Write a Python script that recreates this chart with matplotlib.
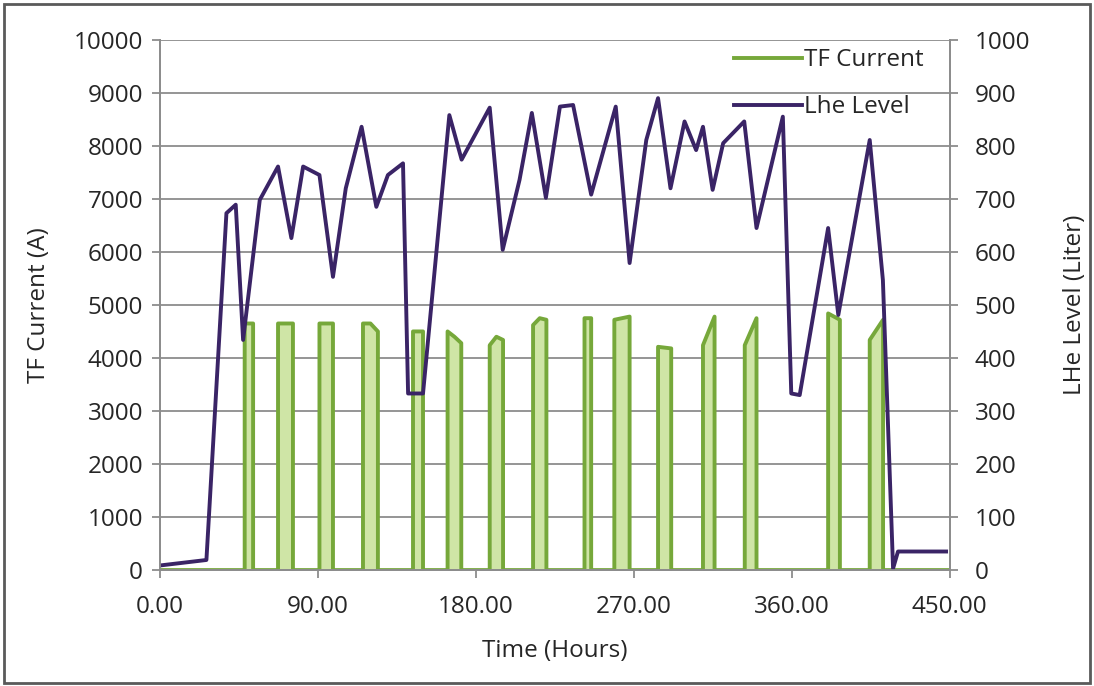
import matplotlib
matplotlib.use('Agg')
import matplotlib.pyplot as plt
from matplotlib.ticker import FormatStrFormatter

# LHe level (Liter) vs time (hours)
lhe_time = [1, 26.6, 38, 43.3, 47.5, 57, 67.4, 75, 81.7, 91, 98.7, 106, 115, 123.4,
            130, 138.6, 141.5, 150, 165, 172, 188, 195.4, 205, 212, 220, 228,
            235.5, 245.8, 259.8, 267.7, 277.2, 283.9, 291, 299, 305.6, 309.5, 315,
            321, 333, 340, 355, 359.8, 364.6, 380.8, 386.6, 404.5, 412, 417.8,
            420.6, 448]
lhe_level = [9, 19, 673, 689, 434, 698, 761, 626, 761, 745, 553, 720, 836, 685,
             745, 767, 333, 333, 858, 774, 872, 604, 736, 862, 702, 874,
             877, 708, 874, 579, 811, 890, 720, 846, 792, 836, 717,
             805, 846, 645, 855, 333, 330, 645, 481, 811, 547, 3,
             35, 35]

# TF current pulses: start time, end time, top values across the pulse
pulse_start = [48.4, 67.4, 91.0, 115.8, 144.3, 164.0, 188.0, 212.7, 242.0,
               259.0, 283.9, 309.5, 333.3, 380.8, 404.5]
pulse_end = [53.2, 75.9, 98.7, 124.3, 150.0, 171.8, 195.6, 220.3, 245.8,
             267.7, 291.4, 316.1, 340.0, 387.5, 412.1]
pulse_top = [[4650, 4650], [4650, 4650], [4650, 4650], [4650, 4650, 4500],
             [4500, 4500], [4500, 4400, 4280], [4240, 4400, 4340],
             [4620, 4750, 4720], [4750, 4750], [4720, 4780], [4210, 4180],
             [4240, 4780], [4240, 4750], [4840, 4720], [4340, 4720]]

# build the TF current trace from the pulses
tf_time = [0]
tf_current = [0]
for t0, t1, tops in zip(pulse_start, pulse_end, pulse_top):
    n = len(tops)
    tf_time.append(t0)
    tf_current.append(0)
    for i, v in enumerate(tops):
        tf_time.append(t0 + (t1 - t0) * i / (n - 1))
        tf_current.append(v)
    tf_time.append(t1)
    tf_current.append(0)
tf_time.append(450)
tf_current.append(0)

green = '#76a83a'
purple = '#3a2466'
grid_gray = '#8c8c8c'
text_col = '#262626'
font = 'Open Sans'
fs = 17.5

fig = plt.figure(figsize=(10.94, 6.86), dpi=100)
ax1 = fig.add_axes([0.146, 0.169, 0.722, 0.773])

ax1.fill_between(tf_time, tf_current, color='#cfe5a6', lw=0)
ax1.plot(tf_time, tf_current, color=green, lw=2.8, label='TF Current')
ax1.set_xlim(0, 450)
ax1.set_ylim(0, 10000)
ax1.set_xticks(range(0, 451, 90))
ax1.xaxis.set_major_formatter(FormatStrFormatter('%.2f'))
ax1.set_yticks(range(0, 10001, 1000))
ax1.grid(axis='y', color=grid_gray, lw=1.3)
ax1.set_axisbelow(True)
ax1.set_xlabel('Time (Hours)', fontsize=fs, family=font, color=text_col, labelpad=14)
ax1.set_ylabel('TF Current (A)', fontsize=fs, family=font, color=text_col, labelpad=16)

ax2 = ax1.twinx()
ax2.plot(lhe_time, lhe_level, color=purple, lw=2.8, label='Lhe Level')
ax2.set_ylim(0, 1000)
ax2.set_yticks(range(0, 1001, 100))
ax2.set_ylabel('LHe Level (Liter)', fontsize=fs, family=font, color=text_col,
               rotation=90, labelpad=24)

for ax in (ax1, ax2):
    for side in ('top', 'right', 'left', 'bottom'):
        ax.spines[side].set_color(grid_gray)
        ax.spines[side].set_linewidth(1.3)
    ax.spines['top'].set_visible(False)
    ax.tick_params(colors=grid_gray, labelcolor=text_col, labelsize=fs,
                   length=6, width=1.3, pad=8)
    for lab in ax.get_xticklabels() + ax.get_yticklabels():
        lab.set_family(font)
ax1.tick_params(axis='x', pad=12)
ax1.tick_params(axis='y', pad=6)
ax2.tick_params(axis='y', pad=12)

h1, l1 = ax1.get_legend_handles_labels()
h2, l2 = ax2.get_legend_handles_labels()
ax2.legend(h1 + h2, l1 + l2, loc='upper right', bbox_to_anchor=(0.995, 1.025),
           frameon=False, prop={'family': font, 'size': fs}, labelspacing=0.95,
           handlelength=2.8, handletextpad=0.1, labelcolor=text_col)

# outer frame of the picture
fig.patches.append(plt.Rectangle((0.004, 0.004), 0.992, 0.99, transform=fig.transFigure,
                                 fill=False, edgecolor='#5a5a5a', lw=2))

plt.savefig('out.png', dpi=100)
plt.close()
